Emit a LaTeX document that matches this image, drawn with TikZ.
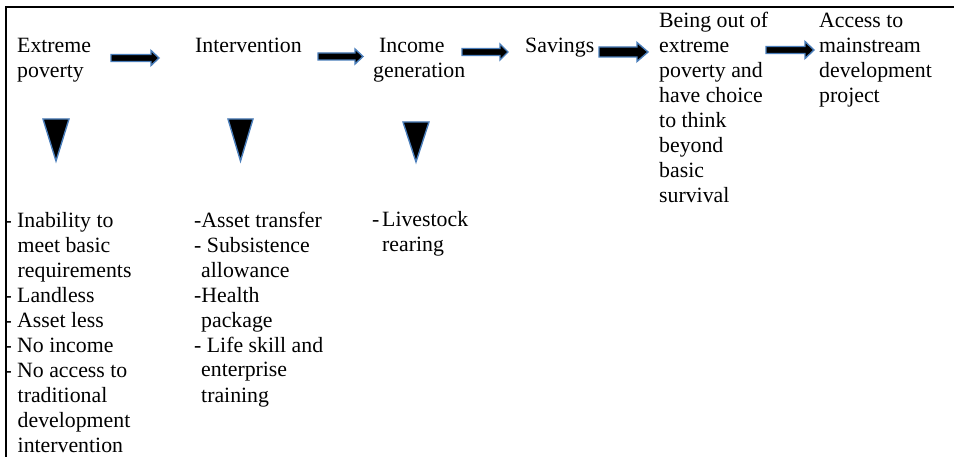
\documentclass[tikz,border=0pt]{standalone}
\usepackage{fontspec}
\setmainfont{Liberation Serif}
\definecolor{edgeblue}{RGB}{74,126,187}
% block arrow: #1 tail x, #2 tip x, #3 head start x, #4 centre y, #5 shaft half height, #6 head half height
\newcommand{\blockarrow}[6]{%
  \draw[blk] (#1,#4-#5) -- (#3,#4-#5) -- (#3,#4-#6) -- (#2,#4)
    -- (#3,#4+#6) -- (#3,#4+#5) -- (#1,#4+#5) -- cycle;}
% downward wedge: #1 left x, #2 right x, #3 top y, #4 apex y
\newcommand{\downwedge}[4]{%
  \draw[blk] (#1,#3) -- (#2,#3) -- ({(#1+#2)/2},#4) -- cycle;}
\newcommand{\itm}[1]{\makebox[#1][l]{-}}
\begin{document}
\begin{tikzpicture}[x=1pt,y=-1pt,
  lbl/.style={anchor=base west,inner sep=0pt,align=left,
    font=\fontsize{21.8}{25}\selectfont},
  blk/.style={fill=black,draw=edgeblue,line width=1.4pt,line join=miter}]
\useasboundingbox (0,0) rectangle (954,457);
\fill[white] (0,0) rectangle (954,457);

% frame edges
\draw[line width=1.3pt] (954,7) -- (6,7) -- (6,457);

% stages along the top (each node sits on the baseline of its last line)
\node[lbl] (ep)   at (17,78)  {Extreme\\poverty};
\node[lbl] (intv) at (195,53) {Intervention};
\node[lbl] (inc)  at (373,78) {\hspace*{6pt}Income\\generation};
\node[lbl] (sav)  at (525,53) {Savings};
\node[lbl] (out)  at (659,203) {Being out of\\extreme\\poverty and\\have choice\\to think\\beyond\\basic\\survival};
\node[lbl] (acc)  at (819,103) {Access to\\mainstream\\development\\project};

% arrows between the stages
\blockarrow{111}{159}{151}{58}{3.5}{7.5}
\blockarrow{318}{363}{355}{56.5}{3.5}{7.5}
\blockarrow{462}{508}{500}{52}{3.5}{8}
\blockarrow{599}{648}{637}{52}{5}{9.5}
\blockarrow{766}{814}{805}{50}{3.5}{8.5}

% wedges pointing to the details
\downwedge{43}{69}{119}{161}
\downwedge{228}{253}{119}{161}
\downwedge{403}{429}{122}{162}

% details under each wedge
\node[lbl] (l1) at (4.5,452) {\itm{12.5pt}Inability to\\
  \hspace*{13pt}meet basic\\
  \hspace*{13pt}requirements\\
  \itm{12.5pt}Landless\\
  \itm{12.5pt}Asset less\\
  \itm{12.5pt}No income\\
  \itm{12.5pt}No access to\\
  \hspace*{13pt}traditional\\
  \hspace*{13pt}development\\
  \hspace*{13pt}intervention};
\node[lbl] (l2) at (194,402) {-Asset transfer\\
  - Subsistence\\
  \hspace*{7pt}allowance\\
  -Health\\
  \hspace*{7pt}package\\
  - Life skill and\\
  \hspace*{7pt}enterprise\\
  \hspace*{7pt}training};
\node[lbl] (l3) at (372,252) {\itm{10pt}Livestock\\
  \hspace*{10pt}rearing};
\end{tikzpicture}
\end{document}
